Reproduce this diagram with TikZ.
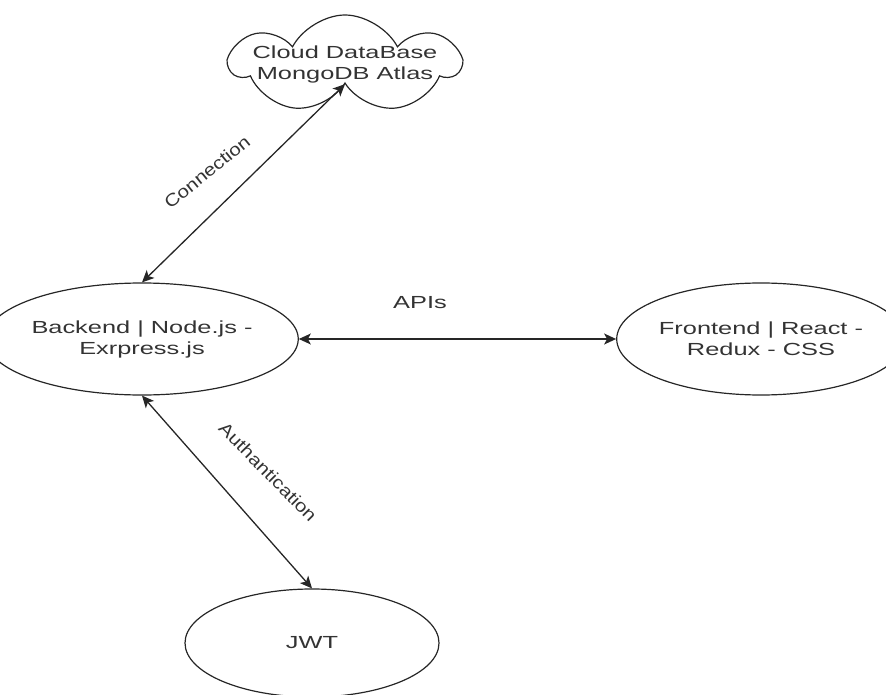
\documentclass[tikz,border=0pt]{standalone}
\usepackage{fontspec}
\newfontfamily\drawfont[FakeStretch=1.45]{Liberation Sans}
\newfontfamily\tiltfont[FakeStretch=1.18]{Liberation Sans}
\usepackage{tikz}
\usetikzlibrary{
    arrows.meta,
    shapes.geometric,
    shapes.symbols,
    positioning
}
\usepackage{xcolor}
\definecolor{inkgray}{rgb}{0.2, 0.2, 0.2}
\tikzstyle{service} = [
    ellipse,
    draw=black!85,
    line width=1.2pt,
    minimum width=260pt,
    minimum height=112pt,
    inner sep=0pt,
    align=center,
    text=inkgray,
    font=\drawfont\fontsize{17.5}{21}\selectfont
]
\tikzstyle{store} = [
    cloud,
    cloud puffs=7,
    cloud puff arc=125,
    cloud ignores aspect,
    draw=black!85,
    line width=1.2pt,
    minimum width=228pt,
    minimum height=98pt,
    inner xsep=-40pt,
    inner ysep=-20pt,
    align=center,
    text=inkgray,
    font=\drawfont\fontsize{17.5}{21}\selectfont
]
\tikzstyle{arrow} = [
    {Stealth[length=12pt, width=11pt, inset=3pt]}-{Stealth[length=12pt, width=11pt, inset=3pt]},
    line width=1.3pt,
    draw=black!85
]
\tikzstyle{edgelabel} = [
    text=inkgray,
    font=\drawfont\fontsize{17.5}{21}\selectfont
]
\tikzstyle{tiltlabel} = [
    text=inkgray,
    font=\tiltfont\fontsize{17.5}{21}\selectfont
]

\begin{document}
\begin{tikzpicture}[x=1pt, y=-1pt]
    \useasboundingbox (0,0) rectangle (886,695);
    \node[store] (db) at (345,64) {Cloud DataBase\\MongoDB Atlas};
    \node[service] (backend) at (142,339) {Backend | Node.js -\\Exrpress.js};
    \node[service, minimum width=250pt] (frontend) at (761,339) {Frontend | React -\\Redux - CSS};
    \node[service, minimum width=254pt, minimum height=108pt] (jwt) at (312,643) {JWT};

    \draw[arrow] (backend.north) -- (db.south);
    \draw[arrow] (backend.east) -- (frontend.west);
    \draw[arrow] (backend.south) -- (jwt.north);

    \node[tiltlabel, rotate=39] (connlabel) at (207,172) {Connection};
    \node[edgelabel] (apilabel) at (420,303) {APIs};
    \node[tiltlabel, rotate=-45.5] (authlabel) at (268,472) {Authantication};
\end{tikzpicture}
\end{document}
